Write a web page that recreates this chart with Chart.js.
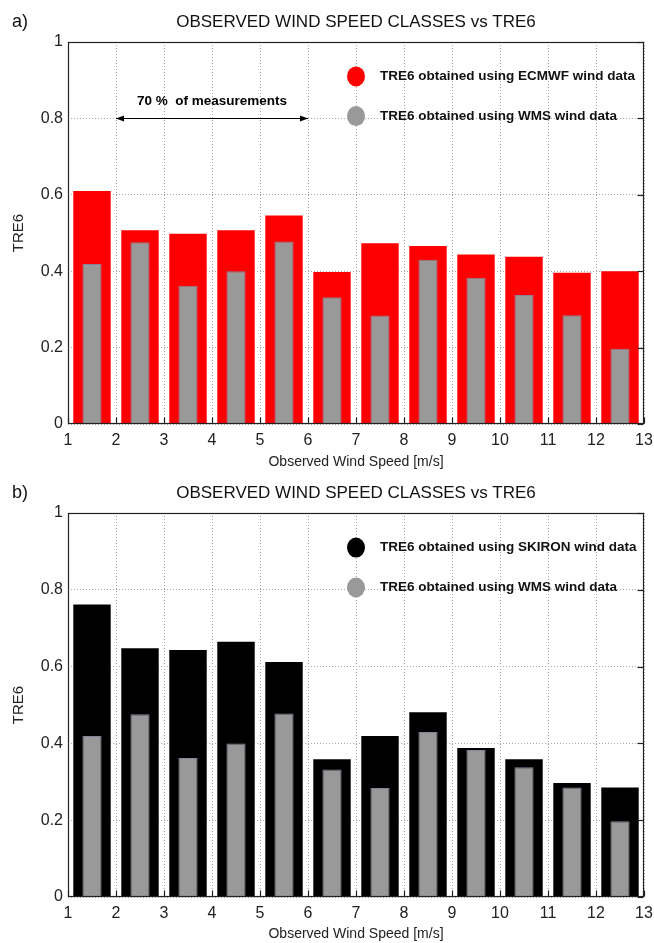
<!DOCTYPE html>
<html>
<head>
<meta charset="utf-8">
<script src="https://cdn.jsdelivr.net/npm/chart.js"></script>
<style>
  body { margin: 0; background: #fff; }
  canvas { display: block; }
</style>
</head>
<body>
<canvas id="chartA" width="654" height="471"></canvas>
<canvas id="chartB" width="654" height="472"></canvas>
<script>
// wind speed classes (bar centres, m/s)
const windClass = [1.5, 2.5, 3.5, 4.5, 5.5, 6.5, 7.5, 8.5, 9.5, 10.5, 11.5, 12.5];
const tre6Ecmwf = [0.610, 0.507, 0.498, 0.507, 0.546, 0.398, 0.473, 0.466, 0.444, 0.438, 0.396, 0.400];
const tre6Skiron = [0.762, 0.648, 0.643, 0.665, 0.612, 0.359, 0.419, 0.481, 0.388, 0.359, 0.297, 0.285];
const tre6Wms = [0.419, 0.476, 0.362, 0.400, 0.478, 0.332, 0.284, 0.430, 0.383, 0.338, 0.285, 0.197];
const xTicks = [1, 2, 3, 4, 5, 6, 7, 8, 9, 10, 11, 12, 13];
const yTicks = [0, 0.2, 0.4, 0.6, 0.8, 1];
const panelTitle = "OBSERVED WIND SPEED CLASSES vs TRE6";
const wmsLabel = "TRE6 obtained using WMS wind data";

const FONT = "'Liberation Sans', Arial, Helvetica, sans-serif";
Chart.defaults.font.family = FONT;
Chart.defaults.color = "#222";

function line(ctx, x1, y1, x2, y2) {
    ctx.beginPath();
    ctx.moveTo(x1, y1);
    ctx.lineTo(x2, y2);
    ctx.stroke();
}

function arrowHead(ctx, x, y, dir) {
    ctx.beginPath();
    ctx.moveTo(x, y);
    ctx.lineTo(x - dir * 8, y - 3);
    ctx.lineTo(x - dir * 8, y + 3);
    ctx.closePath();
    ctx.fill();
}

const panelDecor = {
    id: "panelDecor",
    afterDraw(chart, args, opts) {
        const { ctx, chartArea: a } = chart;
        const x = chart.scales.x, y = chart.scales.y;
        ctx.save();

        // frame + inward ticks
        ctx.strokeStyle = "#222";
        ctx.lineWidth = 1.2;
        const L = Math.round(a.left) + 0.5, R = Math.round(a.right) - 0.5;
        const T = Math.round(a.top) + 0.5, B = Math.round(a.bottom) - 0.5;
        ctx.strokeRect(L, T, R - L, B - T);
        xTicks.forEach(v => {
            const px = Math.round(x.getPixelForValue(v)) + 0.5;
            line(ctx, px, B, px, B - 6);
        });
        yTicks.forEach(v => {
            const py = Math.round(y.getPixelForValue(v)) + 0.5;
            line(ctx, R, py, R - 6, py);
        });

        // panel letter and title
        ctx.fillStyle = "#111";
        ctx.textBaseline = "middle";
        ctx.font = "18px " + FONT;
        ctx.textAlign = "left";
        ctx.fillText(opts.letter, 12, 22);
        ctx.font = "17px " + FONT;
        ctx.textAlign = "center";
        ctx.fillText(panelTitle, (a.left + a.right) / 2, 22);

        // legend inside plot
        ctx.font = "bold 13.5px " + FONT;
        ctx.textAlign = "left";
        opts.legend.forEach(item => {
            const cx = x.getPixelForValue(opts.legendX);
            const cy = y.getPixelForValue(item.at);
            ctx.fillStyle = item.color;
            ctx.beginPath();
            ctx.ellipse(cx, cy, 9, 10, 0, 0, Math.PI * 2);
            ctx.fill();
            ctx.fillStyle = "#111";
            ctx.fillText(item.text, cx + 24, cy);
        });

        // 70 % span arrow
        if (opts.span) {
            const x1 = x.getPixelForValue(opts.span.from);
            const x2 = x.getPixelForValue(opts.span.to);
            const py = Math.round(y.getPixelForValue(opts.span.at)) + 0.5;
            ctx.strokeStyle = "#000";
            ctx.fillStyle = "#000";
            ctx.lineWidth = 1;
            line(ctx, x1, py, x2, py);
            arrowHead(ctx, x1, py, -1);
            arrowHead(ctx, x2, py, 1);
            ctx.font = "bold 13.5px " + FONT;
            ctx.textAlign = "center";
            ctx.fillText(opts.span.text, (x1 + x2) / 2, py - 17);
        }
        ctx.restore();
    }
};

function buildPanel(id, letter, mainLabel, mainValues, mainColor, axisHeight, span) {
    return new Chart(document.getElementById(id), {
        type: "bar",
        data: {
            datasets: [
                {
                    label: wmsLabel,
                    data: windClass.map((c, i) => ({ x: c, y: tre6Wms[i] })),
                    backgroundColor: "#999999",
                    borderColor: "#86829a",
                    borderWidth: 1,
                    barPercentage: 0.4
                },
                {
                    label: mainLabel,
                    data: windClass.map((c, i) => ({ x: c, y: mainValues[i] })),
                    backgroundColor: mainColor,
                    borderWidth: 0,
                    barPercentage: 0.78
                }
            ]
        },
        options: {
            responsive: false,
            animation: false,
            layout: { padding: { top: 42, right: 10, left: 0, bottom: 0 } },
            datasets: { bar: { grouped: false, categoryPercentage: 1 } },
            plugins: {
                legend: { display: false },
                tooltip: { enabled: false },
                panelDecor: {
                    letter: letter,
                    legendX: 7,
                    legend: [
                        { text: mainLabel, color: mainColor, at: 0.91 },
                        { text: wmsLabel, color: "#999999", at: 0.806 }
                    ],
                    span: span
                }
            },
            scales: {
                x: {
                    type: "linear",
                    min: 1,
                    max: 13,
                    offset: false,
                    afterBuildTicks: s => { s.ticks = xTicks.map(v => ({ value: v })); },
                    afterFit: s => { s.height = axisHeight; s.paddingLeft = 0; s.paddingRight = 0; },
                    ticks: { font: { size: 16 }, padding: 7, maxRotation: 0, autoSkip: false, callback: v => String(v) },
                    grid: { color: "#a8a8a8", drawTicks: false, offset: false },
                    border: { display: false, dash: [1, 2] },
                    title: { display: true, text: "Observed Wind Speed [m/s]", font: { size: 14 }, padding: { top: 0, bottom: 0 } }
                },
                y: {
                    min: 0,
                    max: 1,
                    afterBuildTicks: s => { s.ticks = yTicks.map(v => ({ value: v })); },
                    afterFit: s => { s.width = 68; s.paddingTop = 0; s.paddingBottom = 0; },
                    ticks: { font: { size: 16 }, padding: 5, callback: v => String(v) },
                    grid: { color: "#a8a8a8", drawTicks: false },
                    border: { display: false, dash: [1, 2] },
                    title: { display: true, text: "TRE6", font: { size: 15 }, padding: { top: 10, bottom: 0 } }
                }
            }
        },
        plugins: [panelDecor]
    });
}

buildPanel("chartA", "a)", "TRE6 obtained using ECMWF wind data", tre6Ecmwf, "#ff0000", 47,
    { from: 2, to: 6, at: 0.8, text: "70 %  of measurements" });
buildPanel("chartB", "b)", "TRE6 obtained using SKIRON wind data", tre6Skiron, "#000000", 46, null);
</script>
</body>
</html>
